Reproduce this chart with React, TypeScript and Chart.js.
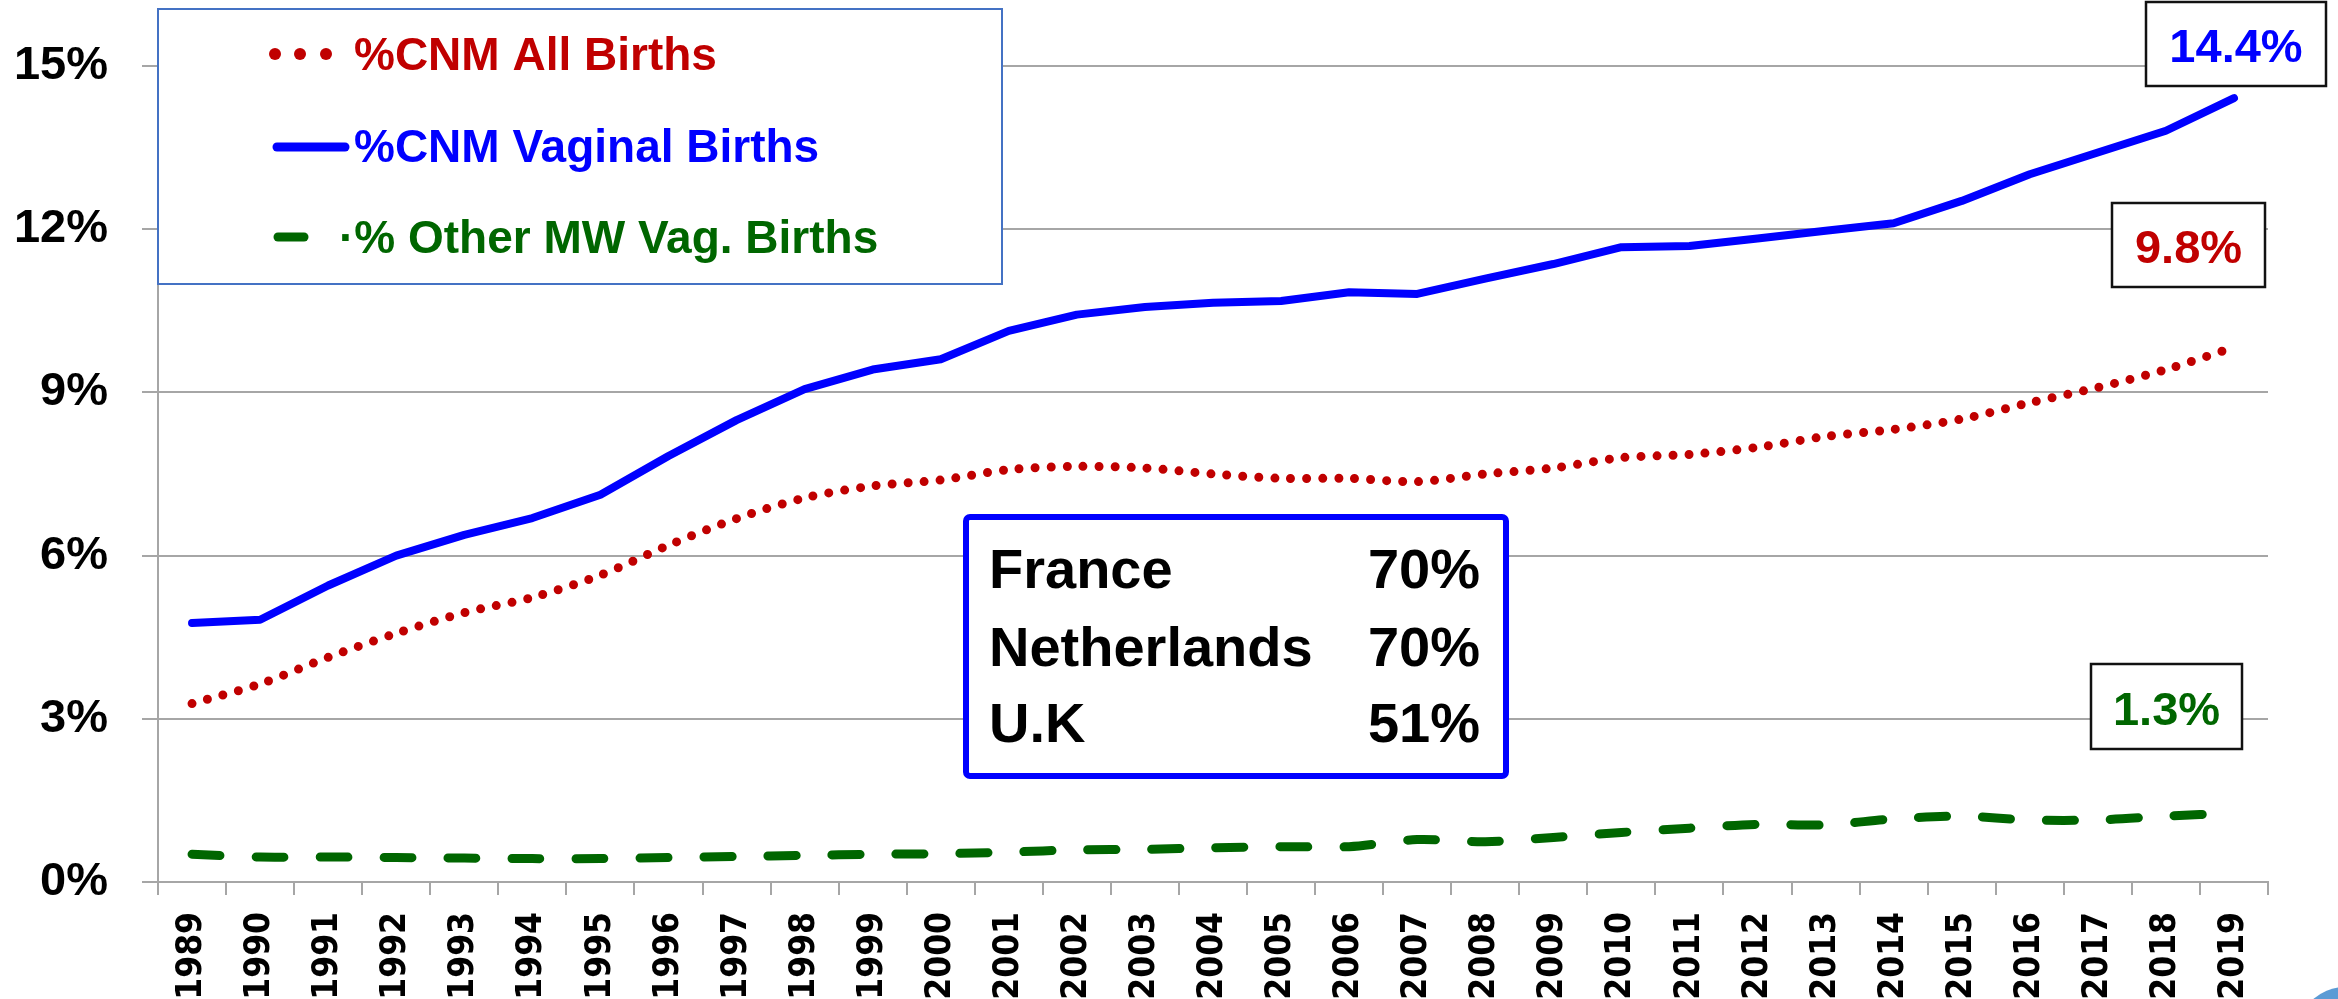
import React, { useEffect, useRef } from "react";
import { Chart, registerables } from "chart.js";

Chart.register(...registerables);

const years = [
  "1989", "1990", "1991", "1992", "1993", "1994", "1995", "1996", "1997", "1998",
  "1999", "2000", "2001", "2002", "2003", "2004", "2005", "2006", "2007", "2008",
  "2009", "2010", "2011", "2012", "2013", "2014", "2015", "2016", "2017", "2018", "2019",
];

const cnmAllBirths = [
  3.28, 3.64, 4.13, 4.57, 4.95, 5.23, 5.64, 6.19, 6.68, 7.06,
  7.28, 7.39, 7.58, 7.64, 7.61, 7.5, 7.42, 7.42, 7.36, 7.5,
  7.61, 7.8, 7.86, 7.99, 8.19, 8.32, 8.51, 8.81, 9.09, 9.42, 9.83,
];

const cnmVaginalBirths = [
  4.76, 4.82, 5.45, 6.0, 6.38, 6.69, 7.12, 7.83, 8.49, 9.06,
  9.42, 9.61, 10.13, 10.43, 10.57, 10.65, 10.68, 10.84, 10.81, 11.09,
  11.36, 11.67, 11.69, 11.83, 11.97, 12.11, 12.52, 13.01, 13.41, 13.81, 14.41,
];

const otherMwVagBirths = [
  0.51, 0.46, 0.46, 0.45, 0.44, 0.43, 0.43, 0.45, 0.47, 0.49,
  0.51, 0.52, 0.55, 0.59, 0.6, 0.63, 0.65, 0.65, 0.78, 0.74,
  0.82, 0.91, 0.99, 1.06, 1.05, 1.16, 1.21, 1.14, 1.14, 1.21, 1.27,
];

const seriesLabels = ["%CNM All Births", "%CNM Vaginal Births", "% Other MW Vag. Births"];
const endLabels = ["14.4%", "9.8%", "1.3%"];
const countries = ["France", "Netherlands", "U.K"];
const countryShares = ["70%", "70%", "51%"];
const yTicks = [0, 3, 6, 9, 12, 15];

const RED = "#C00000";
const BLUE = "#0000FF";
const GREEN = "#006600";
const GRID = "#A6A6A6";
const FONT = '"Liberation Sans", Arial, sans-serif';

const overlayPlugin = {
  id: "overlay",
  afterDraw(chart: any) {
    const ctx = chart.ctx as CanvasRenderingContext2D;
    ctx.save();

    // Legend box
    ctx.fillStyle = "#ffffff";
    ctx.fillRect(158, 9, 844, 275);
    ctx.strokeStyle = "#4472C4";
    ctx.lineWidth = 2;
    ctx.strokeRect(158, 9, 844, 275);

    ctx.fillStyle = RED;
    [275, 300, 326].forEach((x) => {
      ctx.beginPath();
      ctx.arc(x, 54, 6, 0, Math.PI * 2);
      ctx.fill();
    });
    ctx.lineCap = "round";
    ctx.strokeStyle = BLUE;
    ctx.lineWidth = 9;
    ctx.beginPath();
    ctx.moveTo(277, 147);
    ctx.lineTo(345, 147);
    ctx.stroke();
    ctx.strokeStyle = GREEN;
    ctx.beginPath();
    ctx.moveTo(278, 237);
    ctx.lineTo(304, 237);
    ctx.stroke();

    ctx.font = `bold 46px ${FONT}`;
    ctx.textAlign = "left";
    ctx.textBaseline = "alphabetic";
    ctx.fillStyle = RED;
    ctx.fillText(seriesLabels[0], 354, 70);
    ctx.fillStyle = BLUE;
    ctx.fillText(seriesLabels[1], 354, 162);
    ctx.fillStyle = GREEN;
    ctx.fillText("\u00B7" + seriesLabels[2], 339, 253);

    // Country box
    ctx.fillStyle = "#ffffff";
    ctx.strokeStyle = BLUE;
    ctx.lineWidth = 6;
    ctx.beginPath();
    (ctx as any).roundRect(966, 517, 540, 259, 4);
    ctx.fill();
    ctx.stroke();
    ctx.font = `bold 56px ${FONT}`;
    ctx.fillStyle = "#000000";
    const rows = [588, 666, 742];
    countries.forEach((c, i) => {
      ctx.textAlign = "left";
      ctx.fillText(c, 989, rows[i]);
      ctx.textAlign = "right";
      ctx.fillText(countryShares[i], 1480, rows[i]);
    });

    // End value boxes
    const boxes = [
      { x: 2146, y: 2, w: 180, h: 84, color: BLUE, base: 62 },
      { x: 2112, y: 203, w: 153, h: 84, color: RED, base: 263 },
      { x: 2091, y: 664, w: 151, h: 85, color: GREEN, base: 725 },
    ];
    ctx.font = `bold 47px ${FONT}`;
    ctx.textAlign = "center";
    boxes.forEach((b, i) => {
      ctx.fillStyle = "#ffffff";
      ctx.fillRect(b.x, b.y, b.w, b.h);
      ctx.strokeStyle = "#111111";
      ctx.lineWidth = 2.5;
      ctx.strokeRect(b.x, b.y, b.w, b.h);
      ctx.fillStyle = b.color;
      ctx.fillText(endLabels[i], b.x + b.w / 2, b.base);
    });

    // corner decoration
    ctx.fillStyle = "#5B9BD5";
    ctx.beginPath();
    ctx.arc(2345, 1035, 48, 0, Math.PI * 2);
    ctx.fill();

    ctx.restore();
  },
};

export default function App() {
  const ref = useRef<HTMLCanvasElement>(null);

  useEffect(() => {
    const chart = new Chart(ref.current!, {
      type: "line",
      data: {
        labels: years,
        datasets: [
          {
            label: seriesLabels[0],
            data: cnmAllBirths,
            borderColor: RED,
            borderWidth: 9,
            borderDash: [0, 16],
            borderCapStyle: "round",
            pointRadius: 0,
            tension: 0.3,
            fill: false,
          },
          {
            label: seriesLabels[1],
            data: cnmVaginalBirths,
            borderColor: BLUE,
            borderWidth: 8,
            borderCapStyle: "round",
            borderJoinStyle: "round",
            pointRadius: 0,
            tension: 0,
            fill: false,
          },
          {
            label: seriesLabels[2],
            data: otherMwVagBirths,
            borderColor: GREEN,
            borderWidth: 9,
            borderDash: [28, 36],
            borderCapStyle: "round",
            pointRadius: 0,
            tension: 0.3,
            fill: false,
          },
        ],
      },
      options: {
        animation: false,
        responsive: false,
        layout: { padding: { top: 66, right: 70, left: 0, bottom: 0 } },
        plugins: {
          legend: { display: false },
          tooltip: { enabled: false },
        },
        scales: {
          x: {
            type: "category",
            offset: true,
            border: { display: true, color: GRID, width: 2 },
            grid: {
              display: true,
              drawOnChartArea: false,
              drawTicks: true,
              tickLength: 13,
              offset: true,
              color: GRID,
              lineWidth: 2,
            },
            ticks: {
              autoSkip: false,
              maxRotation: 90,
              minRotation: 90,
              padding: 17,
              color: "#000000",
              font: { family: '"DejaVu Sans Condensed", "DejaVu Sans", sans-serif', weight: "bold", size: 35 },
            },
            afterFit: (s: any) => {
              s.height = 117;
            },
          },
          y: {
            min: 0,
            max: 15,
            border: { display: true, color: GRID, width: 2 },
            grid: {
              color: GRID,
              lineWidth: 2,
              drawTicks: true,
              tickLength: 16,
            },
            afterBuildTicks: (s: any) => {
              s.ticks = yTicks.map((v) => ({ value: v }));
            },
            ticks: {
              padding: 34,
              color: "#000000",
              font: { family: FONT, weight: "bold", size: 47 },
              callback: (v: any) => `${v}%`,
            },
            afterFit: (s: any) => {
              s.width = 158;
            },
          },
        },
      },
      plugins: [overlayPlugin],
    });
    return () => chart.destroy();
  }, []);

  return (
    <div style={{ position: "fixed", left: 0, top: 0, width: 2338, height: 999, background: "#ffffff" }}>
      <canvas ref={ref} width={2338} height={999} style={{ width: 2338, height: 999, display: "block" }} />
    </div>
  );
}
